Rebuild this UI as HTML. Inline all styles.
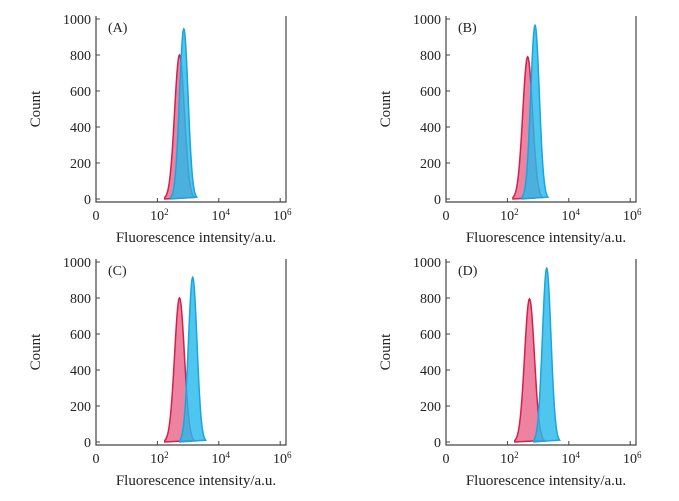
<!DOCTYPE html>
<html><head><meta charset="utf-8"><style>
body{margin:0;background:#fff;}
svg{display:block;font-family:"Liberation Serif",serif;}
</style></head><body>
<svg id="c" width="679" height="501"></svg>
<script>
const panelLabels=["(A)","(B)","(C)","(D)"];
const redCenters=[2.72,2.66,2.72,2.72];
const redHeights=[800,790,800,795];
const blueCenters=[2.86,2.90,3.15,3.28];
const blueHeights=[945,965,915,965];
const yTicks=[0,200,400,600,800,1000];
const xTickLogs=[0,2,4,6];
const xTickLabels=["0","10<tspan dy='-5' font-size='9'>2</tspan>","10<tspan dy='-5' font-size='9'>4</tspan>","10<tspan dy='-5' font-size='9'>6</tspan>"];
const origins=[[96,199],[446,199],[96,442],[446,442]];
const NS="http://www.w3.org/2000/svg";
const svg=document.getElementById('c');
function mk(t,a,p){const e=document.createElementNS(NS,t);for(const k in a)e.setAttribute(k,a[k]);(p||svg).appendChild(e);return e;}
panelLabels.forEach((lab,i)=>{
  const [x0,y0]=origins[i];
  const g=mk('g',{});
  
  
  const xs=v=>x0+v*30.7;
  const ys=v=>y0-v*0.18;
  const curve=(c,h,s)=>{let d='M'+xs(c-3*s)+','+ys(0);for(let k=-30;k<=30;k++){const v=c+k*s/10;d+=' L'+xs(v).toFixed(2)+','+ys(h*Math.exp(-0.5*(k/10)**2)).toFixed(2);}return d+' Z';};
  const r=mk('path',{d:curve(redCenters[i],redHeights[i],0.16),fill:'rgba(232,90,130,0.75)',stroke:'#d3204c','stroke-width':1.5},g);
  
  
  const b=mk('path',{d:curve(blueCenters[i],blueHeights[i],0.14),fill:'rgba(40,185,235,0.82)',stroke:'#19a6dc','stroke-width':1.5},g);
  
  
  const fr=mk('path',{d:`M${x0},${ys(1000)-3} V${y0+3} H${x0+190} V${ys(1000)-3}`,fill:'none',stroke:'#444','stroke-width':1.2},g);
  
  
  yTicks.forEach(t=>{
    mk('line',{x1:x0,x2:x0+4,y1:ys(t),y2:ys(t),stroke:'#444'},g);
    const tx=mk('text',{x:x0-5,y:ys(t)+5,'text-anchor':'end','font-size':14,fill:'#222'},g);
    tx.textContent=t;
    
    
  });
  xTickLogs.forEach((t,j)=>{
    mk('line',{x1:xs(t),x2:xs(t),y1:y0+3,y2:y0-1,stroke:'#444'},g);
    const tx=mk('text',{x:xs(t)+(j?2:0),y:y0+21,'text-anchor':'middle','font-size':14,fill:'#222'},g);
    tx.innerHTML=xTickLabels[j];
    
    
  });
  const pl=mk('text',{x:x0+12,y:ys(1000)+13,'font-size':14,fill:'#222'},g);
  pl.textContent=lab;
  
  
  const yt=mk('text',{transform:`translate(${x0-56},${ys(500)}) rotate(-90)`,'text-anchor':'middle','font-size':15,fill:'#222'},g);
  yt.textContent='Count';
  
  
  const xt=mk('text',{x:x0+100,y:y0+43,'text-anchor':'middle','font-size':15,fill:'#222'},g);
  xt.textContent='Fluorescence intensity/a.u.';
  
  
});
</script>
</body></html>
